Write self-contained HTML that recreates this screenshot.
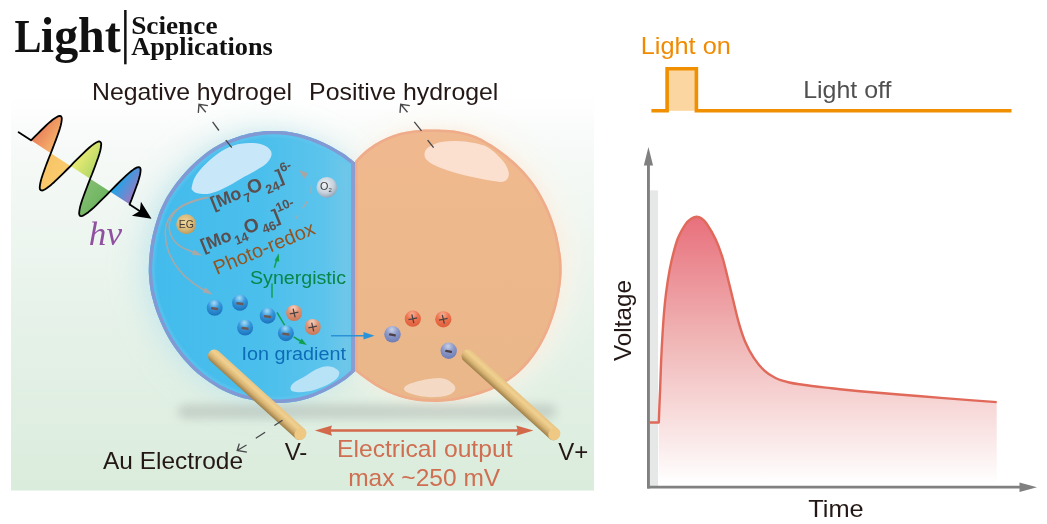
<!DOCTYPE html>
<html><head><meta charset="utf-8"><title>Light: Science &amp; Applications</title>
<style>
html,body{margin:0;padding:0;background:#fff;}
body{width:1047px;height:524px;overflow:hidden;}
svg{display:block;}
text{font-family:"Liberation Sans",sans-serif;}
.serif{font-family:"Liberation Serif",serif;}
</style></head><body>
<svg width="1047" height="524" viewBox="0 0 1047 524">
<defs>
<linearGradient id="gPanel" x1="0" y1="0" x2="0" y2="1">
<stop offset="0" stop-color="#ffffff"/><stop offset="0.12" stop-color="#f7faf8"/><stop offset="0.5" stop-color="#e8f3eb"/><stop offset="1" stop-color="#daecdc"/>
</linearGradient>
<radialGradient id="gBlueGlow" cx="0.5" cy="0.5" r="0.5"><stop offset="0.6" stop-color="#c8ecf4" stop-opacity="0.9"/><stop offset="1" stop-color="#d8f0f0" stop-opacity="0"/></radialGradient>
<radialGradient id="gOrGlow" cx="0.5" cy="0.5" r="0.5"><stop offset="0.7" stop-color="#fbe6d8" stop-opacity="0.9"/><stop offset="1" stop-color="#fdf0e8" stop-opacity="0"/></radialGradient>
<linearGradient id="gBlue" x1="0" y1="0" x2="1" y2="0"><stop offset="0" stop-color="#42bbec"/><stop offset="0.55" stop-color="#4bbfec"/><stop offset="0.85" stop-color="#5cc4ec"/><stop offset="1" stop-color="#76c8e8"/></linearGradient>
<linearGradient id="gOrange" x1="0" y1="0" x2="0" y2="1"><stop offset="0" stop-color="#f0b88e"/><stop offset="0.5" stop-color="#edb88c"/><stop offset="1" stop-color="#e9b789"/></linearGradient>
<linearGradient id="gRod" x1="0" y1="0" x2="0" y2="1"><stop offset="0" stop-color="#e8c484"/><stop offset="0.3" stop-color="#f0d090"/><stop offset="0.65" stop-color="#d8b474"/><stop offset="1" stop-color="#9c7e48"/></linearGradient>
<radialGradient id="gNeg" cx="0.46" cy="0.2" r="0.8"><stop offset="0" stop-color="#a4dcf8"/><stop offset="0.45" stop-color="#3698dc"/><stop offset="1" stop-color="#1a72bc"/></radialGradient>
<radialGradient id="gNegP" cx="0.46" cy="0.22" r="0.8"><stop offset="0" stop-color="#c8d0e6"/><stop offset="0.45" stop-color="#8c98c8"/><stop offset="1" stop-color="#6c7cb4"/></radialGradient>
<radialGradient id="gPos" cx="0.46" cy="0.2" r="0.8"><stop offset="0" stop-color="#f8d4c4"/><stop offset="0.45" stop-color="#e09474"/><stop offset="1" stop-color="#c87858"/></radialGradient>
<radialGradient id="gPos2" cx="0.46" cy="0.22" r="0.8"><stop offset="0" stop-color="#f8b094"/><stop offset="0.45" stop-color="#ee7450"/><stop offset="1" stop-color="#dc5c38"/></radialGradient>
<radialGradient id="gEG" cx="0.45" cy="0.4" r="0.65"><stop offset="0" stop-color="#f0d89c"/><stop offset="0.6" stop-color="#d8b878"/><stop offset="1" stop-color="#b49458"/></radialGradient>
<radialGradient id="gO2" cx="0.42" cy="0.36" r="0.7"><stop offset="0" stop-color="#f0f4f8"/><stop offset="0.6" stop-color="#c4d0dc"/><stop offset="1" stop-color="#8c9cb0"/></radialGradient>
<linearGradient id="gCurve" gradientUnits="userSpaceOnUse" x1="0" y1="217" x2="0" y2="484"><stop offset="0" stop-color="#e8707c"/><stop offset="0.45" stop-color="#f0b4b4"/><stop offset="1" stop-color="#ffffff"/></linearGradient>
<filter id="fBlur16" x="-30%" y="-30%" width="160%" height="160%"><feGaussianBlur stdDeviation="16"/></filter>
<filter id="fBlur6" x="-20%" y="-20%" width="140%" height="140%"><feGaussianBlur stdDeviation="6"/></filter>
<filter id="fBlur5" x="-20%" y="-150%" width="140%" height="400%"><feGaussianBlur stdDeviation="5 4"/></filter>
<filter id="fBlur4" x="-20%" y="-100%" width="140%" height="300%"><feGaussianBlur stdDeviation="4"/></filter>
<filter id="fBlur05" x="-10%" y="-10%" width="120%" height="120%"><feGaussianBlur stdDeviation="0.6"/></filter>
<filter id="fBlur2" x="-20%" y="-20%" width="140%" height="140%"><feGaussianBlur stdDeviation="1.2"/></filter>
<linearGradient id="gL0" gradientUnits="userSpaceOnUse" x1="14.8" y1="0" x2="38.4" y2="0"><stop offset="0" stop-color="#e9805a"/><stop offset="1" stop-color="#f6b46c"/></linearGradient>
<linearGradient id="gL1" gradientUnits="userSpaceOnUse" x1="38.4" y1="0" x2="61.9" y2="0"><stop offset="0" stop-color="#f8c468"/><stop offset="1" stop-color="#f9cc6c"/></linearGradient>
<linearGradient id="gL2" gradientUnits="userSpaceOnUse" x1="61.9" y1="0" x2="85.3" y2="0"><stop offset="0" stop-color="#ecec74"/><stop offset="1" stop-color="#b4d868"/></linearGradient>
<linearGradient id="gL3" gradientUnits="userSpaceOnUse" x1="85.3" y1="0" x2="108.8" y2="0"><stop offset="0" stop-color="#84be72"/><stop offset="1" stop-color="#6cb45e"/></linearGradient>
<linearGradient id="gL4" gradientUnits="userSpaceOnUse" x1="108.8" y1="0" x2="132.3" y2="0"><stop offset="0" stop-color="#18a8ec"/><stop offset="1" stop-color="#9c78c0"/></linearGradient>
</defs>
<!-- header -->
<text class="serif" y="51.6" font-weight="bold" fill="#111"><tspan x="14.4" font-size="47" textLength="27" lengthAdjust="spacingAndGlyphs">L</tspan><tspan x="40.8" font-size="50.5" textLength="80" lengthAdjust="spacingAndGlyphs">ight</tspan></text>
<rect x="124.1" y="10" width="2.5" height="54.3" fill="#111"/>
<text class="serif" x="131.2" y="33.6" font-size="25" font-weight="bold" fill="#111" textLength="86.3" lengthAdjust="spacingAndGlyphs">Science</text>
<text class="serif" x="131.2" y="55.3" font-size="25" font-weight="bold" fill="#111" textLength="141.6" lengthAdjust="spacingAndGlyphs">Applications</text>
<!-- panel -->
<rect x="11" y="96" width="583" height="394.5" fill="url(#gPanel)"/>
<clipPath id="cPanel"><rect x="11" y="96" width="583" height="394.5"/></clipPath>
<g clip-path="url(#cPanel)">
<path d="M355.0,161.3 C356.2,160.0 359.1,156.4 362.4,153.5 C365.7,150.6 370.6,146.7 374.7,144.1 C378.9,141.4 383.0,139.3 387.2,137.4 C391.4,135.6 395.6,134.2 399.7,133.1 C403.9,132.0 408.0,131.3 412.1,130.7 C416.2,130.1 420.4,129.8 424.5,129.6 C428.6,129.4 432.8,129.4 436.9,129.4 C441.0,129.5 445.2,129.7 449.3,130.1 C453.4,130.5 457.6,131.0 461.7,131.9 C465.8,132.8 470.3,134.1 474.1,135.5 C477.9,137.0 480.3,138.1 484.4,140.4 C488.5,142.7 494.0,146.0 498.7,149.4 C503.5,152.8 508.3,156.4 513.0,160.8 C517.8,165.1 523.0,170.1 527.2,175.2 C531.5,180.2 535.1,185.0 538.7,191.0 C542.3,196.9 546.1,204.3 548.9,210.9 C551.8,217.6 554.0,223.9 555.9,231.0 C557.9,238.2 559.6,247.7 560.6,253.9 C561.5,260.0 561.5,263.6 561.6,268.0 C561.7,272.4 561.6,275.1 561.1,280.0 C560.6,284.9 559.9,291.0 558.5,297.2 C557.2,303.5 555.4,310.6 553.1,317.3 C550.9,324.0 548.1,331.1 545.0,337.3 C541.9,343.6 538.6,349.2 534.7,354.7 C530.8,360.2 526.1,365.7 521.5,370.2 C516.9,374.7 512.3,378.2 507.1,381.6 C501.8,385.0 495.6,388.0 490.1,390.4 C484.6,392.7 479.0,394.4 474.3,395.8 C469.5,397.3 465.9,398.2 461.7,399.0 C457.5,399.9 453.4,400.6 449.3,401.1 C445.2,401.6 441.0,401.9 436.9,402.0 C432.8,402.0 428.6,401.9 424.5,401.6 C420.4,401.2 416.2,400.8 412.1,400.0 C408.0,399.3 403.9,398.4 399.7,397.0 C395.6,395.7 391.4,394.1 387.2,392.2 C383.1,390.2 379.0,387.9 374.8,385.4 C370.7,382.8 365.7,379.1 362.4,376.7 C359.1,374.3 356.2,371.9 355.0,371.0 Z" fill="#fdf5ea" opacity="1" filter="url(#fBlur16)" transform="translate(9,-2)"/>
<path d="M355.0,162.6 C353.8,161.7 350.2,158.7 348.0,157.0 C345.8,155.3 344.8,154.4 341.6,152.5 C338.5,150.6 333.4,147.5 329.3,145.4 C325.2,143.3 321.1,141.5 316.9,139.8 C312.8,138.2 308.6,136.7 304.5,135.5 C300.4,134.3 296.2,133.3 292.1,132.5 C288.0,131.8 283.8,131.3 279.7,131.1 C275.5,130.8 271.3,130.9 267.2,131.1 C263.0,131.4 258.5,132.0 254.8,132.6 C251.1,133.2 248.0,133.9 245.0,134.7 C242.0,135.4 239.9,136.0 236.6,137.2 C233.3,138.3 229.0,139.9 225.2,141.6 C221.4,143.4 217.5,145.4 213.7,147.8 C209.9,150.2 206.2,152.8 202.4,155.9 C198.5,159.0 194.5,162.7 190.7,166.6 C186.8,170.5 182.6,175.3 179.3,179.3 C176.1,183.2 173.6,186.6 171.3,190.0 C169.0,193.4 167.4,195.8 165.3,199.8 C163.2,203.9 160.7,208.7 158.6,214.5 C156.6,220.3 154.3,228.0 152.8,234.5 C151.3,241.0 150.3,247.2 149.7,253.5 C149.0,259.7 148.7,266.1 148.8,272.0 C148.9,277.9 149.7,284.3 150.4,289.0 C151.1,293.6 151.7,295.7 152.9,300.0 C154.1,304.3 155.5,309.5 157.6,314.7 C159.6,320.0 162.2,326.0 165.0,331.5 C167.8,336.9 170.7,342.0 174.4,347.2 C178.1,352.5 182.4,358.0 187.0,362.9 C191.5,367.8 196.3,372.5 201.6,376.6 C206.8,380.8 212.9,384.8 218.5,388.0 C224.1,391.1 230.0,393.5 235.2,395.4 C240.4,397.4 245.1,398.5 249.9,399.6 C254.7,400.7 259.2,401.4 264.0,402.0 C268.8,402.5 274.3,402.8 278.7,402.9 C283.1,402.9 286.3,402.7 290.1,402.2 C293.9,401.8 297.8,401.2 301.6,400.2 C305.4,399.3 309.2,398.2 313.0,396.8 C316.8,395.3 320.7,393.6 324.5,391.8 C328.4,389.9 332.3,387.8 336.1,385.5 C339.9,383.2 344.2,380.3 347.4,377.9 C350.6,375.5 353.7,372.3 355.0,371.2 Z" fill="#bfe4ea" opacity="0.7" filter="url(#fBlur16)" transform="translate(-8,0)"/>
<path d="M355.0,162.6 C353.8,161.7 350.2,158.7 348.0,157.0 C345.8,155.3 344.8,154.4 341.6,152.5 C338.5,150.6 333.4,147.5 329.3,145.4 C325.2,143.3 321.1,141.5 316.9,139.8 C312.8,138.2 308.6,136.7 304.5,135.5 C300.4,134.3 296.2,133.3 292.1,132.5 C288.0,131.8 283.8,131.3 279.7,131.1 C275.5,130.8 271.3,130.9 267.2,131.1 C263.0,131.4 258.5,132.0 254.8,132.6 C251.1,133.2 248.0,133.9 245.0,134.7 C242.0,135.4 239.9,136.0 236.6,137.2 C233.3,138.3 229.0,139.9 225.2,141.6 C221.4,143.4 217.5,145.4 213.7,147.8 C209.9,150.2 206.2,152.8 202.4,155.9 C198.5,159.0 194.5,162.7 190.7,166.6 C186.8,170.5 182.6,175.3 179.3,179.3 C176.1,183.2 173.6,186.6 171.3,190.0 C169.0,193.4 167.4,195.8 165.3,199.8 C163.2,203.9 160.7,208.7 158.6,214.5 C156.6,220.3 154.3,228.0 152.8,234.5 C151.3,241.0 150.3,247.2 149.7,253.5 C149.0,259.7 148.7,266.1 148.8,272.0 C148.9,277.9 149.7,284.3 150.4,289.0 C151.1,293.6 151.7,295.7 152.9,300.0 C154.1,304.3 155.5,309.5 157.6,314.7 C159.6,320.0 162.2,326.0 165.0,331.5 C167.8,336.9 170.7,342.0 174.4,347.2 C178.1,352.5 182.4,358.0 187.0,362.9 C191.5,367.8 196.3,372.5 201.6,376.6 C206.8,380.8 212.9,384.8 218.5,388.0 C224.1,391.1 230.0,393.5 235.2,395.4 C240.4,397.4 245.1,398.5 249.9,399.6 C254.7,400.7 259.2,401.4 264.0,402.0 C268.8,402.5 274.3,402.8 278.7,402.9 C283.1,402.9 286.3,402.7 290.1,402.2 C293.9,401.8 297.8,401.2 301.6,400.2 C305.4,399.3 309.2,398.2 313.0,396.8 C316.8,395.3 320.7,393.6 324.5,391.8 C328.4,389.9 332.3,387.8 336.1,385.5 C339.9,383.2 344.2,380.3 347.4,377.9 C350.6,375.5 353.7,372.3 355.0,371.2 Z" fill="#c4e8f2" opacity="0.35" filter="url(#fBlur6)" transform="translate(-3,0)"/>
<path d="M355.0,161.3 C356.2,160.0 359.1,156.4 362.4,153.5 C365.7,150.6 370.6,146.7 374.7,144.1 C378.9,141.4 383.0,139.3 387.2,137.4 C391.4,135.6 395.6,134.2 399.7,133.1 C403.9,132.0 408.0,131.3 412.1,130.7 C416.2,130.1 420.4,129.8 424.5,129.6 C428.6,129.4 432.8,129.4 436.9,129.4 C441.0,129.5 445.2,129.7 449.3,130.1 C453.4,130.5 457.6,131.0 461.7,131.9 C465.8,132.8 470.3,134.1 474.1,135.5 C477.9,137.0 480.3,138.1 484.4,140.4 C488.5,142.7 494.0,146.0 498.7,149.4 C503.5,152.8 508.3,156.4 513.0,160.8 C517.8,165.1 523.0,170.1 527.2,175.2 C531.5,180.2 535.1,185.0 538.7,191.0 C542.3,196.9 546.1,204.3 548.9,210.9 C551.8,217.6 554.0,223.9 555.9,231.0 C557.9,238.2 559.6,247.7 560.6,253.9 C561.5,260.0 561.5,263.6 561.6,268.0 C561.7,272.4 561.6,275.1 561.1,280.0 C560.6,284.9 559.9,291.0 558.5,297.2 C557.2,303.5 555.4,310.6 553.1,317.3 C550.9,324.0 548.1,331.1 545.0,337.3 C541.9,343.6 538.6,349.2 534.7,354.7 C530.8,360.2 526.1,365.7 521.5,370.2 C516.9,374.7 512.3,378.2 507.1,381.6 C501.8,385.0 495.6,388.0 490.1,390.4 C484.6,392.7 479.0,394.4 474.3,395.8 C469.5,397.3 465.9,398.2 461.7,399.0 C457.5,399.9 453.4,400.6 449.3,401.1 C445.2,401.6 441.0,401.9 436.9,402.0 C432.8,402.0 428.6,401.9 424.5,401.6 C420.4,401.2 416.2,400.8 412.1,400.0 C408.0,399.3 403.9,398.4 399.7,397.0 C395.6,395.7 391.4,394.1 387.2,392.2 C383.1,390.2 379.0,387.9 374.8,385.4 C370.7,382.8 365.7,379.1 362.4,376.7 C359.1,374.3 356.2,371.9 355.0,371.0 Z" fill="#fbe0cc" opacity="0.35" filter="url(#fBlur6)" transform="translate(3,0)"/>
</g>
<!-- shadow -->
<rect x="178" y="404" width="378" height="15" rx="7" fill="#a0a8a2" opacity="0.4" filter="url(#fBlur5)"/>
<!-- blobs -->
<clipPath id="cOr"><path d="M355.0,161.3 C356.2,160.0 359.1,156.4 362.4,153.5 C365.7,150.6 370.6,146.7 374.7,144.1 C378.9,141.4 383.0,139.3 387.2,137.4 C391.4,135.6 395.6,134.2 399.7,133.1 C403.9,132.0 408.0,131.3 412.1,130.7 C416.2,130.1 420.4,129.8 424.5,129.6 C428.6,129.4 432.8,129.4 436.9,129.4 C441.0,129.5 445.2,129.7 449.3,130.1 C453.4,130.5 457.6,131.0 461.7,131.9 C465.8,132.8 470.3,134.1 474.1,135.5 C477.9,137.0 480.3,138.1 484.4,140.4 C488.5,142.7 494.0,146.0 498.7,149.4 C503.5,152.8 508.3,156.4 513.0,160.8 C517.8,165.1 523.0,170.1 527.2,175.2 C531.5,180.2 535.1,185.0 538.7,191.0 C542.3,196.9 546.1,204.3 548.9,210.9 C551.8,217.6 554.0,223.9 555.9,231.0 C557.9,238.2 559.6,247.7 560.6,253.9 C561.5,260.0 561.5,263.6 561.6,268.0 C561.7,272.4 561.6,275.1 561.1,280.0 C560.6,284.9 559.9,291.0 558.5,297.2 C557.2,303.5 555.4,310.6 553.1,317.3 C550.9,324.0 548.1,331.1 545.0,337.3 C541.9,343.6 538.6,349.2 534.7,354.7 C530.8,360.2 526.1,365.7 521.5,370.2 C516.9,374.7 512.3,378.2 507.1,381.6 C501.8,385.0 495.6,388.0 490.1,390.4 C484.6,392.7 479.0,394.4 474.3,395.8 C469.5,397.3 465.9,398.2 461.7,399.0 C457.5,399.9 453.4,400.6 449.3,401.1 C445.2,401.6 441.0,401.9 436.9,402.0 C432.8,402.0 428.6,401.9 424.5,401.6 C420.4,401.2 416.2,400.8 412.1,400.0 C408.0,399.3 403.9,398.4 399.7,397.0 C395.6,395.7 391.4,394.1 387.2,392.2 C383.1,390.2 379.0,387.9 374.8,385.4 C370.7,382.8 365.7,379.1 362.4,376.7 C359.1,374.3 356.2,371.9 355.0,371.0 Z"/></clipPath><clipPath id="cBl"><path d="M355.0,162.6 C353.8,161.7 350.2,158.7 348.0,157.0 C345.8,155.3 344.8,154.4 341.6,152.5 C338.5,150.6 333.4,147.5 329.3,145.4 C325.2,143.3 321.1,141.5 316.9,139.8 C312.8,138.2 308.6,136.7 304.5,135.5 C300.4,134.3 296.2,133.3 292.1,132.5 C288.0,131.8 283.8,131.3 279.7,131.1 C275.5,130.8 271.3,130.9 267.2,131.1 C263.0,131.4 258.5,132.0 254.8,132.6 C251.1,133.2 248.0,133.9 245.0,134.7 C242.0,135.4 239.9,136.0 236.6,137.2 C233.3,138.3 229.0,139.9 225.2,141.6 C221.4,143.4 217.5,145.4 213.7,147.8 C209.9,150.2 206.2,152.8 202.4,155.9 C198.5,159.0 194.5,162.7 190.7,166.6 C186.8,170.5 182.6,175.3 179.3,179.3 C176.1,183.2 173.6,186.6 171.3,190.0 C169.0,193.4 167.4,195.8 165.3,199.8 C163.2,203.9 160.7,208.7 158.6,214.5 C156.6,220.3 154.3,228.0 152.8,234.5 C151.3,241.0 150.3,247.2 149.7,253.5 C149.0,259.7 148.7,266.1 148.8,272.0 C148.9,277.9 149.7,284.3 150.4,289.0 C151.1,293.6 151.7,295.7 152.9,300.0 C154.1,304.3 155.5,309.5 157.6,314.7 C159.6,320.0 162.2,326.0 165.0,331.5 C167.8,336.9 170.7,342.0 174.4,347.2 C178.1,352.5 182.4,358.0 187.0,362.9 C191.5,367.8 196.3,372.5 201.6,376.6 C206.8,380.8 212.9,384.8 218.5,388.0 C224.1,391.1 230.0,393.5 235.2,395.4 C240.4,397.4 245.1,398.5 249.9,399.6 C254.7,400.7 259.2,401.4 264.0,402.0 C268.8,402.5 274.3,402.8 278.7,402.9 C283.1,402.9 286.3,402.7 290.1,402.2 C293.9,401.8 297.8,401.2 301.6,400.2 C305.4,399.3 309.2,398.2 313.0,396.8 C316.8,395.3 320.7,393.6 324.5,391.8 C328.4,389.9 332.3,387.8 336.1,385.5 C339.9,383.2 344.2,380.3 347.4,377.9 C350.6,375.5 353.7,372.3 355.0,371.2 Z"/></clipPath>
<path d="M355.0,161.3 C356.2,160.0 359.1,156.4 362.4,153.5 C365.7,150.6 370.6,146.7 374.7,144.1 C378.9,141.4 383.0,139.3 387.2,137.4 C391.4,135.6 395.6,134.2 399.7,133.1 C403.9,132.0 408.0,131.3 412.1,130.7 C416.2,130.1 420.4,129.8 424.5,129.6 C428.6,129.4 432.8,129.4 436.9,129.4 C441.0,129.5 445.2,129.7 449.3,130.1 C453.4,130.5 457.6,131.0 461.7,131.9 C465.8,132.8 470.3,134.1 474.1,135.5 C477.9,137.0 480.3,138.1 484.4,140.4 C488.5,142.7 494.0,146.0 498.7,149.4 C503.5,152.8 508.3,156.4 513.0,160.8 C517.8,165.1 523.0,170.1 527.2,175.2 C531.5,180.2 535.1,185.0 538.7,191.0 C542.3,196.9 546.1,204.3 548.9,210.9 C551.8,217.6 554.0,223.9 555.9,231.0 C557.9,238.2 559.6,247.7 560.6,253.9 C561.5,260.0 561.5,263.6 561.6,268.0 C561.7,272.4 561.6,275.1 561.1,280.0 C560.6,284.9 559.9,291.0 558.5,297.2 C557.2,303.5 555.4,310.6 553.1,317.3 C550.9,324.0 548.1,331.1 545.0,337.3 C541.9,343.6 538.6,349.2 534.7,354.7 C530.8,360.2 526.1,365.7 521.5,370.2 C516.9,374.7 512.3,378.2 507.1,381.6 C501.8,385.0 495.6,388.0 490.1,390.4 C484.6,392.7 479.0,394.4 474.3,395.8 C469.5,397.3 465.9,398.2 461.7,399.0 C457.5,399.9 453.4,400.6 449.3,401.1 C445.2,401.6 441.0,401.9 436.9,402.0 C432.8,402.0 428.6,401.9 424.5,401.6 C420.4,401.2 416.2,400.8 412.1,400.0 C408.0,399.3 403.9,398.4 399.7,397.0 C395.6,395.7 391.4,394.1 387.2,392.2 C383.1,390.2 379.0,387.9 374.8,385.4 C370.7,382.8 365.7,379.1 362.4,376.7 C359.1,374.3 356.2,371.9 355.0,371.0 Z" fill="url(#gOrange)"/>
<g clip-path="url(#cOr)"><path d="M355.0,161.3 C356.2,160.0 359.1,156.4 362.4,153.5 C365.7,150.6 370.6,146.7 374.7,144.1 C378.9,141.4 383.0,139.3 387.2,137.4 C391.4,135.6 395.6,134.2 399.7,133.1 C403.9,132.0 408.0,131.3 412.1,130.7 C416.2,130.1 420.4,129.8 424.5,129.6 C428.6,129.4 432.8,129.4 436.9,129.4 C441.0,129.5 445.2,129.7 449.3,130.1 C453.4,130.5 457.6,131.0 461.7,131.9 C465.8,132.8 470.3,134.1 474.1,135.5 C477.9,137.0 480.3,138.1 484.4,140.4 C488.5,142.7 494.0,146.0 498.7,149.4 C503.5,152.8 508.3,156.4 513.0,160.8 C517.8,165.1 523.0,170.1 527.2,175.2 C531.5,180.2 535.1,185.0 538.7,191.0 C542.3,196.9 546.1,204.3 548.9,210.9 C551.8,217.6 554.0,223.9 555.9,231.0 C557.9,238.2 559.6,247.7 560.6,253.9 C561.5,260.0 561.5,263.6 561.6,268.0 C561.7,272.4 561.6,275.1 561.1,280.0 C560.6,284.9 559.9,291.0 558.5,297.2 C557.2,303.5 555.4,310.6 553.1,317.3 C550.9,324.0 548.1,331.1 545.0,337.3 C541.9,343.6 538.6,349.2 534.7,354.7 C530.8,360.2 526.1,365.7 521.5,370.2 C516.9,374.7 512.3,378.2 507.1,381.6 C501.8,385.0 495.6,388.0 490.1,390.4 C484.6,392.7 479.0,394.4 474.3,395.8 C469.5,397.3 465.9,398.2 461.7,399.0 C457.5,399.9 453.4,400.6 449.3,401.1 C445.2,401.6 441.0,401.9 436.9,402.0 C432.8,402.0 428.6,401.9 424.5,401.6 C420.4,401.2 416.2,400.8 412.1,400.0 C408.0,399.3 403.9,398.4 399.7,397.0 C395.6,395.7 391.4,394.1 387.2,392.2 C383.1,390.2 379.0,387.9 374.8,385.4 C370.7,382.8 365.7,379.1 362.4,376.7 C359.1,374.3 356.2,371.9 355.0,371.0 Z" fill="none" stroke="#efa88a" stroke-width="5" opacity="0.75" filter="url(#fBlur05)"/></g>
<path d="M355.0,162.6 C353.8,161.7 350.2,158.7 348.0,157.0 C345.8,155.3 344.8,154.4 341.6,152.5 C338.5,150.6 333.4,147.5 329.3,145.4 C325.2,143.3 321.1,141.5 316.9,139.8 C312.8,138.2 308.6,136.7 304.5,135.5 C300.4,134.3 296.2,133.3 292.1,132.5 C288.0,131.8 283.8,131.3 279.7,131.1 C275.5,130.8 271.3,130.9 267.2,131.1 C263.0,131.4 258.5,132.0 254.8,132.6 C251.1,133.2 248.0,133.9 245.0,134.7 C242.0,135.4 239.9,136.0 236.6,137.2 C233.3,138.3 229.0,139.9 225.2,141.6 C221.4,143.4 217.5,145.4 213.7,147.8 C209.9,150.2 206.2,152.8 202.4,155.9 C198.5,159.0 194.5,162.7 190.7,166.6 C186.8,170.5 182.6,175.3 179.3,179.3 C176.1,183.2 173.6,186.6 171.3,190.0 C169.0,193.4 167.4,195.8 165.3,199.8 C163.2,203.9 160.7,208.7 158.6,214.5 C156.6,220.3 154.3,228.0 152.8,234.5 C151.3,241.0 150.3,247.2 149.7,253.5 C149.0,259.7 148.7,266.1 148.8,272.0 C148.9,277.9 149.7,284.3 150.4,289.0 C151.1,293.6 151.7,295.7 152.9,300.0 C154.1,304.3 155.5,309.5 157.6,314.7 C159.6,320.0 162.2,326.0 165.0,331.5 C167.8,336.9 170.7,342.0 174.4,347.2 C178.1,352.5 182.4,358.0 187.0,362.9 C191.5,367.8 196.3,372.5 201.6,376.6 C206.8,380.8 212.9,384.8 218.5,388.0 C224.1,391.1 230.0,393.5 235.2,395.4 C240.4,397.4 245.1,398.5 249.9,399.6 C254.7,400.7 259.2,401.4 264.0,402.0 C268.8,402.5 274.3,402.8 278.7,402.9 C283.1,402.9 286.3,402.7 290.1,402.2 C293.9,401.8 297.8,401.2 301.6,400.2 C305.4,399.3 309.2,398.2 313.0,396.8 C316.8,395.3 320.7,393.6 324.5,391.8 C328.4,389.9 332.3,387.8 336.1,385.5 C339.9,383.2 344.2,380.3 347.4,377.9 C350.6,375.5 353.7,372.3 355.0,371.2 Z" fill="url(#gBlue)"/>
<g clip-path="url(#cBl)"><path d="M355.0,162.6 C353.8,161.7 350.2,158.7 348.0,157.0 C345.8,155.3 344.8,154.4 341.6,152.5 C338.5,150.6 333.4,147.5 329.3,145.4 C325.2,143.3 321.1,141.5 316.9,139.8 C312.8,138.2 308.6,136.7 304.5,135.5 C300.4,134.3 296.2,133.3 292.1,132.5 C288.0,131.8 283.8,131.3 279.7,131.1 C275.5,130.8 271.3,130.9 267.2,131.1 C263.0,131.4 258.5,132.0 254.8,132.6 C251.1,133.2 248.0,133.9 245.0,134.7 C242.0,135.4 239.9,136.0 236.6,137.2 C233.3,138.3 229.0,139.9 225.2,141.6 C221.4,143.4 217.5,145.4 213.7,147.8 C209.9,150.2 206.2,152.8 202.4,155.9 C198.5,159.0 194.5,162.7 190.7,166.6 C186.8,170.5 182.6,175.3 179.3,179.3 C176.1,183.2 173.6,186.6 171.3,190.0 C169.0,193.4 167.4,195.8 165.3,199.8 C163.2,203.9 160.7,208.7 158.6,214.5 C156.6,220.3 154.3,228.0 152.8,234.5 C151.3,241.0 150.3,247.2 149.7,253.5 C149.0,259.7 148.7,266.1 148.8,272.0 C148.9,277.9 149.7,284.3 150.4,289.0 C151.1,293.6 151.7,295.7 152.9,300.0 C154.1,304.3 155.5,309.5 157.6,314.7 C159.6,320.0 162.2,326.0 165.0,331.5 C167.8,336.9 170.7,342.0 174.4,347.2 C178.1,352.5 182.4,358.0 187.0,362.9 C191.5,367.8 196.3,372.5 201.6,376.6 C206.8,380.8 212.9,384.8 218.5,388.0 C224.1,391.1 230.0,393.5 235.2,395.4 C240.4,397.4 245.1,398.5 249.9,399.6 C254.7,400.7 259.2,401.4 264.0,402.0 C268.8,402.5 274.3,402.8 278.7,402.9 C283.1,402.9 286.3,402.7 290.1,402.2 C293.9,401.8 297.8,401.2 301.6,400.2 C305.4,399.3 309.2,398.2 313.0,396.8 C316.8,395.3 320.7,393.6 324.5,391.8 C328.4,389.9 332.3,387.8 336.1,385.5 C339.9,383.2 344.2,380.3 347.4,377.9 C350.6,375.5 353.7,372.3 355.0,371.2 Z" fill="none" stroke="#62c6f0" stroke-width="12" opacity="0.6" filter="url(#fBlur2)"/><path d="M355.0,162.6 C353.8,161.7 350.2,158.7 348.0,157.0 C345.8,155.3 344.8,154.4 341.6,152.5 C338.5,150.6 333.4,147.5 329.3,145.4 C325.2,143.3 321.1,141.5 316.9,139.8 C312.8,138.2 308.6,136.7 304.5,135.5 C300.4,134.3 296.2,133.3 292.1,132.5 C288.0,131.8 283.8,131.3 279.7,131.1 C275.5,130.8 271.3,130.9 267.2,131.1 C263.0,131.4 258.5,132.0 254.8,132.6 C251.1,133.2 248.0,133.9 245.0,134.7 C242.0,135.4 239.9,136.0 236.6,137.2 C233.3,138.3 229.0,139.9 225.2,141.6 C221.4,143.4 217.5,145.4 213.7,147.8 C209.9,150.2 206.2,152.8 202.4,155.9 C198.5,159.0 194.5,162.7 190.7,166.6 C186.8,170.5 182.6,175.3 179.3,179.3 C176.1,183.2 173.6,186.6 171.3,190.0 C169.0,193.4 167.4,195.8 165.3,199.8 C163.2,203.9 160.7,208.7 158.6,214.5 C156.6,220.3 154.3,228.0 152.8,234.5 C151.3,241.0 150.3,247.2 149.7,253.5 C149.0,259.7 148.7,266.1 148.8,272.0 C148.9,277.9 149.7,284.3 150.4,289.0 C151.1,293.6 151.7,295.7 152.9,300.0 C154.1,304.3 155.5,309.5 157.6,314.7 C159.6,320.0 162.2,326.0 165.0,331.5 C167.8,336.9 170.7,342.0 174.4,347.2 C178.1,352.5 182.4,358.0 187.0,362.9 C191.5,367.8 196.3,372.5 201.6,376.6 C206.8,380.8 212.9,384.8 218.5,388.0 C224.1,391.1 230.0,393.5 235.2,395.4 C240.4,397.4 245.1,398.5 249.9,399.6 C254.7,400.7 259.2,401.4 264.0,402.0 C268.8,402.5 274.3,402.8 278.7,402.9 C283.1,402.9 286.3,402.7 290.1,402.2 C293.9,401.8 297.8,401.2 301.6,400.2 C305.4,399.3 309.2,398.2 313.0,396.8 C316.8,395.3 320.7,393.6 324.5,391.8 C328.4,389.9 332.3,387.8 336.1,385.5 C339.9,383.2 344.2,380.3 347.4,377.9 C350.6,375.5 353.7,372.3 355.0,371.2 Z" fill="none" stroke="#8299d3" stroke-width="6.8"/><rect x="351" y="150" width="6" height="235" fill="#8a9cd0"/></g>
<path d="M191.8,187.1 C192.2,184.9 192.9,180.7 194.9,177.2 C196.9,173.7 200.1,169.7 203.6,166.0 C207.1,162.3 211.9,158.0 216.0,154.9 C220.1,151.8 224.3,149.3 228.4,147.4 C232.5,145.5 236.7,144.4 240.8,143.7 C244.9,143.0 249.3,142.8 253.2,143.1 C257.1,143.4 261.5,144.3 264.4,145.5 C267.3,146.7 269.5,148.7 270.6,150.5 C271.7,152.3 271.8,154.0 271.2,156.1 C270.6,158.2 269.3,160.6 266.9,162.9 C264.5,165.2 260.7,167.4 257.0,169.7 C253.3,172.0 248.8,174.2 244.6,176.6 C240.4,179.0 236.2,181.7 232.1,184.0 C227.9,186.3 223.8,188.5 219.7,190.2 C215.6,191.8 211.0,193.4 207.3,193.9 C203.6,194.4 199.9,193.9 197.4,193.3 C194.9,192.7 193.3,191.2 192.4,190.2 C191.5,189.2 191.4,189.3 191.8,187.1 Z" fill="#c8e8fa" filter="url(#fBlur05)"/>
<path d="M290.5,388.1 C291,384 296,381 302.1,378.1 C309,374 315,369 322.1,367 C328,365.5 333,366.5 336.2,369.1 C338.5,370.5 339.8,372 339.2,374.1 C338.5,377.5 336,380 332.2,382.1 C326,386 320,388.5 314.1,390.1 C308,391.8 301,392.8 296.1,392.1 C292,391.8 290.3,390.5 290.5,388.1 Z" fill="#b8e2f6" filter="url(#fBlur05)"/>
<path d="M424.5,154.8 C424.5,150.5 427,148 430.7,146.1 C434.5,143.6 438.5,142.3 443.1,141.7 C447,141 451,140.8 455.5,140.9 C462,141 468,141.6 474.2,143 C478,143.8 481,144.6 484.3,145.6 C490,148.5 495,152.2 498.7,156.5 C503,160.5 507.5,166 508.7,172.3 C509.3,177 507.5,180.5 503.5,181.6 C502,182 500.5,182 498.7,181.7 C494,181.2 489,180.4 484.3,179.4 C479.5,178.5 475,177.6 470,176.6 C460,174.3 450,171.5 441,168 C434,165.3 427.5,162 425.3,158 C424.7,157 424.5,156 424.5,154.8 Z" fill="#fbe0d0" filter="url(#fBlur05)"/>
<path d="M404,388.5 C404.5,385.8 408,384.2 412.1,382.9 C421,380 430,378.2 439.4,378 C445,378.2 449,380.2 451.8,382.9 C454,384.6 455.5,386.5 455.3,388.5 C455,391.3 452.8,393.2 449.3,394.7 C443.5,396.6 437,397.3 430.7,397.2 C424,397 417.5,396 412.1,394.1 C407.5,392.8 403.8,390.8 404,388.5 Z" fill="#f4dac4" filter="url(#fBlur05)"/>
<g transform="translate(18.6,132.3) rotate(33)">
<path d="M14.8,-0.0 L15.8,-4.8 L16.8,-9.4 L17.8,-14.0 L18.8,-18.2 L19.7,-22.2 L20.7,-25.8 L21.7,-29.0 L22.7,-31.6 L23.7,-33.7 L24.6,-35.3 L25.6,-36.2 L26.6,-36.5 L27.6,-36.2 L28.6,-35.3 L29.5,-33.7 L30.5,-31.6 L31.5,-29.0 L32.5,-25.8 L33.5,-22.2 L34.4,-18.3 L35.4,-14.0 L36.4,-9.4 L37.4,-4.8 L38.4,0.0 Z" fill="url(#gL0)"/>
<path d="M38.4,0.0 L39.3,4.8 L40.3,9.4 L41.3,14.0 L42.3,18.2 L43.2,22.2 L44.2,25.8 L45.2,29.0 L46.2,31.6 L47.2,33.7 L48.1,35.3 L49.1,36.2 L50.1,36.5 L51.1,36.2 L52.1,35.3 L53.0,33.7 L54.0,31.6 L55.0,29.0 L56.0,25.8 L57.0,22.2 L57.9,18.2 L58.9,14.0 L59.9,9.4 L60.9,4.8 L61.9,-0.0 Z" fill="url(#gL1)"/>
<path d="M61.9,-0.0 L62.8,-4.8 L63.8,-9.4 L64.8,-14.0 L65.8,-18.2 L66.7,-22.2 L67.7,-25.8 L68.7,-29.0 L69.7,-31.6 L70.7,-33.7 L71.6,-35.3 L72.6,-36.2 L73.6,-36.5 L74.6,-36.2 L75.6,-35.3 L76.5,-33.7 L77.5,-31.6 L78.5,-29.0 L79.5,-25.8 L80.5,-22.2 L81.4,-18.2 L82.4,-14.0 L83.4,-9.4 L84.4,-4.8 L85.3,-0.0 Z" fill="url(#gL2)"/>
<path d="M85.3,-0.0 L86.3,4.8 L87.3,9.4 L88.3,14.0 L89.3,18.3 L90.2,22.2 L91.2,25.8 L92.2,29.0 L93.2,31.6 L94.2,33.7 L95.1,35.3 L96.1,36.2 L97.1,36.5 L98.1,36.2 L99.1,35.3 L100.0,33.7 L101.0,31.6 L102.0,29.0 L103.0,25.8 L104.0,22.2 L104.9,18.3 L105.9,14.0 L106.9,9.4 L107.9,4.8 L108.8,-0.0 Z" fill="url(#gL3)"/>
<path d="M108.8,-0.0 L109.8,-4.8 L110.8,-9.4 L111.8,-14.0 L112.8,-18.3 L113.7,-22.2 L114.7,-25.8 L115.7,-29.0 L116.7,-31.6 L117.7,-33.7 L118.6,-35.3 L119.6,-36.2 L120.6,-36.5 L121.6,-36.2 L122.6,-35.3 L123.5,-33.7 L124.5,-31.6 L125.5,-29.0 L126.5,-25.8 L127.5,-22.2 L128.4,-18.2 L129.4,-14.0 L130.4,-9.4 L131.4,-4.8 L132.3,-0.0 Z" fill="url(#gL4)"/>
<path d="M0,0 L14.8,0 L14.8,-0.0 L15.8,-4.8 L16.8,-9.4 L17.8,-14.0 L18.8,-18.2 L19.7,-22.2 L20.7,-25.8 L21.7,-29.0 L22.7,-31.6 L23.7,-33.7 L24.6,-35.3 L25.6,-36.2 L26.6,-36.5 L27.6,-36.2 L28.6,-35.3 L29.5,-33.7 L30.5,-31.6 L31.5,-29.0 L32.5,-25.8 L33.5,-22.2 L34.4,-18.3 L35.4,-14.0 L36.4,-9.4 L37.4,-4.8 L38.4,0.0 L39.3,4.8 L40.3,9.4 L41.3,14.0 L42.3,18.2 L43.2,22.2 L44.2,25.8 L45.2,29.0 L46.2,31.6 L47.2,33.7 L48.1,35.3 L49.1,36.2 L50.1,36.5 L51.1,36.2 L52.1,35.3 L53.0,33.7 L54.0,31.6 L55.0,29.0 L56.0,25.8 L57.0,22.2 L57.9,18.2 L58.9,14.0 L59.9,9.4 L60.9,4.8 L61.9,-0.0 L62.8,-4.8 L63.8,-9.4 L64.8,-14.0 L65.8,-18.2 L66.7,-22.2 L67.7,-25.8 L68.7,-29.0 L69.7,-31.6 L70.7,-33.7 L71.6,-35.3 L72.6,-36.2 L73.6,-36.5 L74.6,-36.2 L75.6,-35.3 L76.5,-33.7 L77.5,-31.6 L78.5,-29.0 L79.5,-25.8 L80.5,-22.2 L81.4,-18.3 L82.4,-14.0 L83.4,-9.4 L84.4,-4.8 L85.3,-0.0 L86.3,4.8 L87.3,9.4 L88.3,14.0 L89.3,18.3 L90.2,22.2 L91.2,25.8 L92.2,29.0 L93.2,31.6 L94.2,33.7 L95.1,35.3 L96.1,36.2 L97.1,36.5 L98.1,36.2 L99.1,35.3 L100.0,33.7 L101.0,31.6 L102.0,29.0 L103.0,25.8 L104.0,22.2 L104.9,18.3 L105.9,14.0 L106.9,9.4 L107.9,4.8 L108.8,-0.0 L109.8,-4.8 L110.8,-9.4 L111.8,-14.0 L112.8,-18.3 L113.7,-22.2 L114.7,-25.8 L115.7,-29.0 L116.7,-31.6 L117.7,-33.7 L118.6,-35.3 L119.6,-36.2 L120.6,-36.5 L121.6,-36.2 L122.6,-35.3 L123.5,-33.7 L124.5,-31.6 L125.5,-29.0 L126.5,-25.8 L127.5,-22.2 L128.4,-18.2 L129.4,-14.0 L130.4,-9.4 L131.4,-4.8 L132.3,-0.0" fill="none" stroke="#000" stroke-width="1.8" stroke-linejoin="round" stroke-linecap="round"/>
<path d="M132,0 L148,0" stroke="#000" stroke-width="1.8"/><path d="M158.5,0 L140.5,-8.3 L144.5,0 L140.5,8.3 Z" fill="#000"/>
</g>
<text class="serif" x="88.8" y="244.8" font-size="34" font-style="italic" fill="#9050a0" textLength="33.2" lengthAdjust="spacingAndGlyphs">hv</text>
<text x="92" y="99.6" font-size="24" fill="#231815" textLength="200" lengthAdjust="spacingAndGlyphs">Negative hydrogel</text>
<text x="309.1" y="99.6" font-size="24" fill="#231815" textLength="189.3" lengthAdjust="spacingAndGlyphs">Positive hydrogel</text>
<g stroke="#48484a" stroke-width="1.35" fill="none">
<path d="M212.6,121.8 L218.9,130.5 M225.8,140.1 L231.8,147.6"/><path d="M198.3,112.9 L199,104.3 L207.9,105.7 M199,104.3 L205.8,112.2"/>
<path d="M414.3,121.8 L421.5,130.8 M427.6,140.1 L433.6,147.6"/><path d="M400,112.9 L400.7,104.3 L409.8,105.7 M400.7,104.3 L407.5,112.2"/>
</g>
<text x="103" y="468.5" font-size="24" fill="#231815" textLength="140" lengthAdjust="spacingAndGlyphs">Au Electrode</text>
<text x="284.7" y="459.5" font-size="24" fill="#231815">V-</text>
<text x="558.3" y="459.5" font-size="24" fill="#231815">V+</text>
<g fill="none" stroke="#a9a8a7" stroke-width="1.5">
<path d="M208.3,197.3 C200,199 192,201.5 185.2,204.7 C179,208 174.5,212 171.5,217.3 C169.3,221.5 168.8,226 169.4,229.9 C170.3,235 172.5,239 175.7,242.5 C179,246 183,248.2 187.3,249.8 C190.5,251.2 194,252.6 197,253.7"/>
<path d="M208.3,197.3 C199,199 190.5,201.5 183.5,205 C176.5,208.8 171.5,213.5 168.4,219.4 C166.3,223.5 165.2,227.8 165.2,232 C165.2,238.5 166.3,245 168.4,250.9 C170.8,257.8 174.2,264 178.9,269.8 C183,275 188,279.5 193.6,283.4 C198,286.6 203,289.8 207.5,292"/>
</g>
<path d="M202.5,255.7 L192.0,254.8 L193.8,249.6 Z" fill="#a9a8a7"/>
<path d="M212.8,294.8 L202.4,292.3 L205.3,287.3 Z" fill="#a9a8a7"/>
<g stroke="#b2a8a4" stroke-width="1.3" fill="none"><path d="M296,218.5 L298,215.4 M302.7,208.1 L307.4,201.4 M311,193.4 L311.4,185.1"/></g>
<path d="M298.7,170 L308.2,173.2 L304.4,178.6 Z" fill="#a8a5a3"/>
<g font-weight="bold" fill="#5a4e4e" transform="translate(213.4,209.6) rotate(-22)">
<text x="0" y="0" font-size="17.8">[Mo<tspan dy="6" font-size="12.6" dx="1.2">7</tspan><tspan dy="-6" dx="-0.4" font-size="19.2">O</tspan><tspan dy="6" font-size="12.6" dx="1.8">24</tspan><tspan dy="-6" dx="0.6" font-size="18.5">]</tspan><tspan dy="-9" font-size="12.6" dx="0.3">6-</tspan></text>
</g>
<g font-weight="bold" fill="#5a4e4e" transform="translate(203.6,251.8) rotate(-22)">
<text x="0" y="0" font-size="17.8">[Mo<tspan dy="6" font-size="12.6" dx="1.4">14</tspan><tspan dy="-6" dx="-0.6" font-size="19.2">O</tspan><tspan dy="6" font-size="12.6" dx="1.6">46</tspan><tspan dy="-6" dx="0.4" font-size="18.5">]</tspan><tspan dy="-9" font-size="12.6" dx="0">10-</tspan></text>
</g>
<text transform="translate(216.8,275) rotate(-22.6)" font-size="19.8" fill="#93531f" textLength="108" lengthAdjust="spacingAndGlyphs">Photo-redox</text>
<text x="250" y="284.3" font-size="18.8" fill="#088548" textLength="96" lengthAdjust="spacingAndGlyphs">Synergistic</text>
<g stroke="#10a050" stroke-width="1.5" fill="none"><path d="M274.4,267.8 L276.6,260"/><path d="M272,283.5 L272,297.7"/><path d="M277,312.3 L284.7,325.4"/><path d="M293.7,336.9 L301,341.5"/></g>
<path d="M278.7,253.4 L274.6,260.4 L279.2,261.8 Z" fill="#10a050"/>
<path d="M306.8,345 L298.6,343.2 L301.6,338.4 Z" fill="#10a050"/>
<text x="241.4" y="360.4" font-size="18.7" fill="#0c6cb8" textLength="104.5" lengthAdjust="spacingAndGlyphs">Ion gradient</text>
<circle cx="186.2" cy="224.2" r="10" fill="url(#gEG)"/>
<text x="186.3" y="228" font-size="10.5" fill="#463c38" text-anchor="middle">EG</text>
<circle cx="326.8" cy="187.4" r="10.3" fill="url(#gO2)"/>
<text x="320" y="190.2" font-size="10.8" fill="#3c3c3c">O<tspan font-size="6" dy="1.8">2</tspan></text>
<circle cx="214.7" cy="307.8" r="8" fill="url(#gNeg)"/><rect x="211.1" y="307.40000000000003" width="7.2" height="2.6" rx="0.8" fill="#6b5a58" transform="rotate(8 214.7 307.8)"/>
<circle cx="240" cy="302.8" r="8" fill="url(#gNeg)"/><rect x="236.4" y="302.40000000000003" width="7.2" height="2.6" rx="0.8" fill="#6b5a58" transform="rotate(8 240 302.8)"/>
<circle cx="267.7" cy="315.7" r="8" fill="url(#gNeg)"/><rect x="264.09999999999997" y="315.3" width="7.2" height="2.6" rx="0.8" fill="#6b5a58" transform="rotate(8 267.7 315.7)"/>
<circle cx="245.1" cy="327.5" r="8" fill="url(#gNeg)"/><rect x="241.5" y="327.1" width="7.2" height="2.6" rx="0.8" fill="#6b5a58" transform="rotate(8 245.1 327.5)"/>
<circle cx="285.9" cy="333.2" r="8" fill="url(#gNeg)"/><rect x="282.29999999999995" y="332.8" width="7.2" height="2.6" rx="0.8" fill="#6b5a58" transform="rotate(8 285.9 333.2)"/>
<circle cx="294.1" cy="313" r="8" fill="url(#gPos)"/><path d="M289.8,313.9 L298.40000000000003,312.1 M293.1,308.6 L295.1,317.4" stroke="#4c4444" stroke-width="1.3" fill="none"/>
<circle cx="312.7" cy="327" r="8" fill="url(#gPos)"/><path d="M308.4,327.9 L317.0,326.1 M311.7,322.6 L313.7,331.4" stroke="#4c4444" stroke-width="1.3" fill="none"/>
<path d="M331,335.7 L366,335.7" stroke="#2a92d8" stroke-width="1.6"/><path d="M374.5,335.7 L363.5,332 L363.5,339.4 Z" fill="#2a92d8"/>
<circle cx="392.5" cy="334.3" r="8.3" fill="url(#gNegP)"/><rect x="389.1" y="333.7" width="6.8" height="2.4" rx="0.8" fill="#4a4048" transform="rotate(10 392.5 334.3)"/>
<circle cx="448.7" cy="350.8" r="8.2" fill="url(#gNegP)"/><rect x="445.3" y="350.2" width="6.8" height="2.4" rx="0.8" fill="#4a4048" transform="rotate(10 448.7 350.8)"/>
<circle cx="412.8" cy="318.7" r="8.1" fill="url(#gPos2)"/><path d="M408.5,319.59999999999997 L417.1,317.8 M411.8,314.3 L413.8,323.09999999999997" stroke="#4c4444" stroke-width="1.3" fill="none"/>
<circle cx="443.3" cy="319.3" r="8.1" fill="url(#gPos2)"/><path d="M439.0,320.2 L447.6,318.40000000000003 M442.3,314.90000000000003 L444.3,323.7" stroke="#4c4444" stroke-width="1.3" fill="none"/>
<g transform="translate(214.4,356) rotate(42.2)"><path d="M0,-6.5 L116,-6.5 A5.6,6.5 0 0 1 116,6.5 L0,6.5 A6.5,6.5 0 0 1 0,-6.5 Z" fill="url(#gRod)"/><ellipse cx="116" cy="0" rx="5.6" ry="6.4" fill="#efc984"/></g>
<g transform="translate(468,356) rotate(42.2)"><path d="M0,-6.5 L116.5,-6.5 A5.6,6.5 0 0 1 116.5,6.5 L0,6.5 A6.5,6.5 0 0 1 0,-6.5 Z" fill="url(#gRod)"/><ellipse cx="116.5" cy="0" rx="5.6" ry="6.4" fill="#efc984"/></g>
<g stroke="#48484a" stroke-width="1.35" fill="none"><path d="M282.5,420.3 L274.4,425.5 M265.1,432.2 L255.8,438.3"/><path d="M239.3,443.6 L237.2,450.5 L246.9,452.2 M237.2,450.5 L246.5,445"/></g>
<path d="M328,430.6 L520,430.6" stroke="#d2694a" stroke-width="2.5"/>
<path d="M314.9,430.6 L332,425.5 L330.5,430.6 L332,435.7 Z" fill="#d2694a"/><path d="M533.4,430.6 L516.3,425.5 L517.8,430.6 L516.3,435.7 Z" fill="#d2694a"/>
<text x="337" y="456.8" font-size="24" fill="#cf6e50" textLength="175.5" lengthAdjust="spacingAndGlyphs">Electrical output</text>
<text x="348.2" y="485.8" font-size="24" fill="#cf6e50" textLength="152" lengthAdjust="spacingAndGlyphs">max ~250 mV</text>
<text x="640.8" y="53.6" font-size="24.3" fill="#f08a00" textLength="90" lengthAdjust="spacingAndGlyphs">Light on</text>
<rect x="667.1" y="68.7" width="29.3" height="42.1" fill="#fcd6a0"/>
<path d="M651.4,110.8 L667.1,110.8 L667.1,68.7 L696.4,68.7 L696.4,110.8 L1011.5,110.8" fill="none" stroke="#f09000" stroke-width="3.6" stroke-linejoin="miter"/>
<text x="803.2" y="97.7" font-size="24" fill="#505050" textLength="88.3" lengthAdjust="spacingAndGlyphs">Light off</text>
<rect x="649" y="190.4" width="9" height="296" fill="#e6e7e7"/>
<path d="M658.8,422.5 C658.9,419.8 659.2,411.4 659.4,406.0 C659.6,400.6 659.8,397.8 660.1,390.4 C660.4,383.0 660.7,371.3 661.1,361.7 C661.5,352.1 662.0,342.8 662.6,333.0 C663.2,323.2 664.0,311.8 664.9,303.0 C665.8,294.2 666.8,287.2 667.9,280.0 C669.0,272.8 670.1,266.9 671.7,260.0 C673.4,253.1 675.4,244.5 677.8,238.5 C680.1,232.5 683.6,227.1 685.8,223.8 C688.0,220.6 689.0,220.2 690.8,219.0 C692.5,217.8 694.5,216.9 696.3,216.8 C698.1,216.7 700.1,217.5 701.8,218.6 C703.5,219.7 704.2,220.1 706.5,223.5 C708.8,226.9 712.8,233.3 715.5,239.0 C718.2,244.7 720.4,250.8 722.5,257.5 C724.6,264.2 726.2,271.9 728.0,279.0 C729.8,286.1 731.4,292.8 733.2,300.2 C735.0,307.6 736.9,316.1 738.9,323.1 C740.9,330.2 743.0,336.7 745.5,342.5 C748.0,348.3 750.7,353.2 753.8,357.8 C756.9,362.4 760.5,367.0 764.1,370.4 C767.7,373.8 771.3,376.0 775.5,378.0 C779.7,380.0 784.7,381.4 789.3,382.5 C793.9,383.6 796.9,383.9 803.0,384.8 C809.1,385.7 819.7,386.9 825.9,387.6 C832.1,388.3 834.3,388.6 840.0,389.2 C845.7,389.8 851.7,390.4 860.0,391.2 C868.3,392.0 879.8,392.9 890.0,393.8 C900.2,394.7 909.3,395.4 921.0,396.3 C932.7,397.2 947.4,398.4 960.0,399.4 C972.6,400.4 990.6,401.7 996.7,402.1 L996.7,486 L658.8,486 Z" fill="url(#gCurve)"/>
<path d="M649.7,422.5 L658.8,422.5 C658.9,419.8 659.2,411.4 659.4,406.0 C659.6,400.6 659.8,397.8 660.1,390.4 C660.4,383.0 660.7,371.3 661.1,361.7 C661.5,352.1 662.0,342.8 662.6,333.0 C663.2,323.2 664.0,311.8 664.9,303.0 C665.8,294.2 666.8,287.2 667.9,280.0 C669.0,272.8 670.1,266.9 671.7,260.0 C673.4,253.1 675.4,244.5 677.8,238.5 C680.1,232.5 683.6,227.1 685.8,223.8 C688.0,220.6 689.0,220.2 690.8,219.0 C692.5,217.8 694.5,216.9 696.3,216.8 C698.1,216.7 700.1,217.5 701.8,218.6 C703.5,219.7 704.2,220.1 706.5,223.5 C708.8,226.9 712.8,233.3 715.5,239.0 C718.2,244.7 720.4,250.8 722.5,257.5 C724.6,264.2 726.2,271.9 728.0,279.0 C729.8,286.1 731.4,292.8 733.2,300.2 C735.0,307.6 736.9,316.1 738.9,323.1 C740.9,330.2 743.0,336.7 745.5,342.5 C748.0,348.3 750.7,353.2 753.8,357.8 C756.9,362.4 760.5,367.0 764.1,370.4 C767.7,373.8 771.3,376.0 775.5,378.0 C779.7,380.0 784.7,381.4 789.3,382.5 C793.9,383.6 796.9,383.9 803.0,384.8 C809.1,385.7 819.7,386.9 825.9,387.6 C832.1,388.3 834.3,388.6 840.0,389.2 C845.7,389.8 851.7,390.4 860.0,391.2 C868.3,392.0 879.8,392.9 890.0,393.8 C900.2,394.7 909.3,395.4 921.0,396.3 C932.7,397.2 947.4,398.4 960.0,399.4 C972.6,400.4 990.6,401.7 996.7,402.1" fill="none" stroke="#e0695a" stroke-width="2.4" stroke-linejoin="round"/>
<path d="M648.45,163 L648.45,488.5" stroke="#808080" stroke-width="2.9"/>
<path d="M647.2,487.2 L1021,487.2" stroke="#808080" stroke-width="2.8"/>
<path d="M648.45,147 L643.8,165.5 L653.1,165.5 Z" fill="#808080"/>
<path d="M1037,487.2 L1019.5,482.5 L1019.5,491.9 Z" fill="#808080"/>
<text transform="translate(631,361) rotate(-90)" font-size="24" fill="#231815" textLength="81" lengthAdjust="spacingAndGlyphs">Voltage</text>
<text x="808.2" y="516.8" font-size="24.5" fill="#231815" textLength="55.5" lengthAdjust="spacingAndGlyphs">Time</text>
</svg>
</body></html>
